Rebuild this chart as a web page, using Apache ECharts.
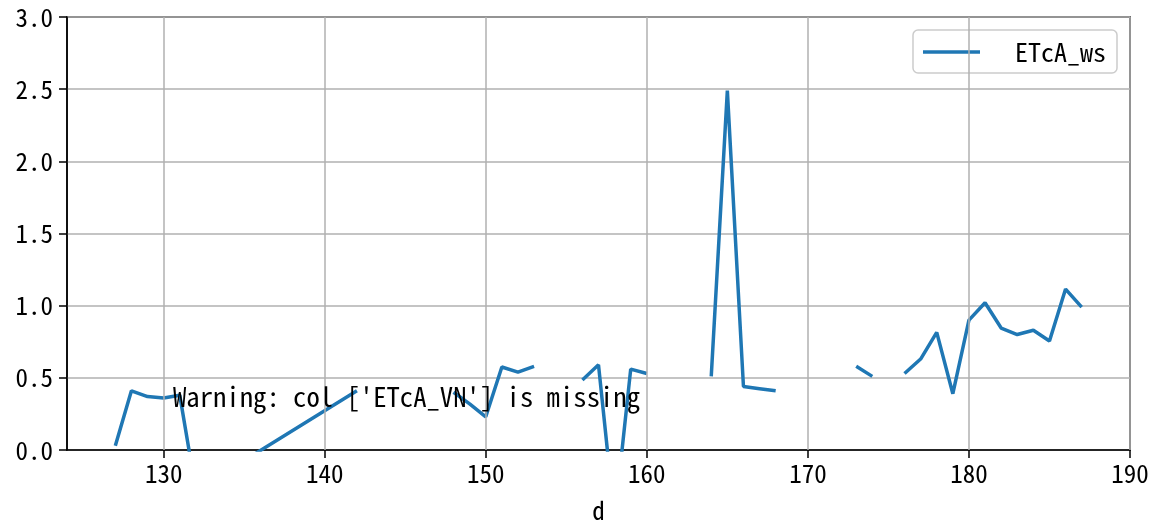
<!DOCTYPE html>
<html><head><meta charset="utf-8">
<script src="https://cdn.jsdelivr.net/npm/echarts@6/dist/echarts.min.js"></script>
<style>html,body{margin:0;padding:0;background:#fff}#c{width:1152px;height:520px}</style>
</head><body><div id="c"></div>
<script>
const seriesName = 'ETcA_ws';
const warningText = "Warning: col ['ETcA_VN'] is missing";
const xTicks = [130, 140, 150, 160, 170, 180, 190];
const yTicks = [0.0, 0.5, 1.0, 1.5, 2.0, 2.5, 3.0];
// null = missing value (gap in line)
const days = [127,128,129,130,131,132,142,145,148,149,150,151,152,153,154,156,157,158,159,160,162,164,165,166,167,168,170,173,174,175,176,177,178,179,180,181,182,183,184,185,186,187];
const etca = [0.03,0.41,0.37,0.36,0.38,-0.28,0.41,null,0.40,0.32,0.23,0.575,0.54,0.58,null,0.485,0.59,-0.48,0.56,0.53,null,0.51,2.49,0.44,0.425,0.41,null,0.58,0.51,null,0.53,0.63,0.815,0.39,0.90,1.02,0.845,0.80,0.83,0.755,1.115,0.99];

const FONT = '"Noto Sans Mono CJK SC", "Noto Sans CJK SC", "DejaVu Sans Mono", monospace';
const chart = echarts.init(document.getElementById('c'), null, {renderer: 'canvas'});
chart.setOption({
  animation: false,
  grid: {left: 67, right: 22, top: 17, bottom: 70, show: true, borderColor: '#000', borderWidth: 1.5,
         containLabel: false, outerBoundsMode: 'none'},
  xAxis: {
    type: 'value', min: 124, max: 190, interval: 10,
    name: 'd', nameLocation: 'middle', nameGap: 48,
    nameTextStyle: {fontFamily: FONT, fontSize: 25, color: '#000'},
    axisLine: {show: true, lineStyle: {color: '#000', width: 1.5}},
    axisTick: {show: true, length: 8, lineStyle: {color: '#000', width: 1.5}, customValues: xTicks},
    axisLabel: {fontFamily: FONT, fontSize: 25, color: '#000', margin: 11, customValues: xTicks},
    splitLine: {show: false}
  },
  yAxis: {
    type: 'value', min: 0, max: 3, interval: 0.5,
    axisLine: {show: true, lineStyle: {color: '#000', width: 1.5}},
    axisTick: {show: true, length: 8, lineStyle: {color: '#000', width: 1.5}},
    axisLabel: {fontFamily: FONT, fontSize: 25, color: '#000', margin: 14, formatter: v => v.toFixed(1)},
    splitLine: {show: true, lineStyle: {color: '#b0b0b0', width: 1.5}}
  },
  legend: {
    show: true, right: 35, top: 30,
    padding: [9, 11, 8, 10],
    borderColor: '#cccccc', borderWidth: 1.5, borderRadius: 5, backgroundColor: 'rgba(255,255,255,0.8)',
    icon: 'rect', itemWidth: 57, itemHeight: 3.5,
    textStyle: {fontFamily: FONT, fontSize: 26, color: '#000', padding: [0, 0, 0, 30]},
    data: [{name: seriesName}]
  },
  graphic: [
    {type: 'text', left: 173, top: 384, z: 100,
     style: {text: warningText, fontFamily: FONT, fontSize: 26.7, fill: '#000'}}
  ],
  series: [
    {
      name: seriesName, type: 'line',
      data: days.map((d, i) => [d, etca[i]]),
      showSymbol: false, symbol: 'none', connectNulls: false, clip: true,
      lineStyle: {color: '#1f77b4', width: 3.5},
      itemStyle: {color: '#1f77b4'}
    },
    {
      type: 'line', data: [], silent: true,
      markLine: {silent: true, symbol: 'none', label: {show: false},
        lineStyle: {color: '#b0b0b0', width: 1.5, type: 'solid'},
        data: xTicks.map(t => ({xAxis: t}))}
    }
  ]
});
</script></body></html>
